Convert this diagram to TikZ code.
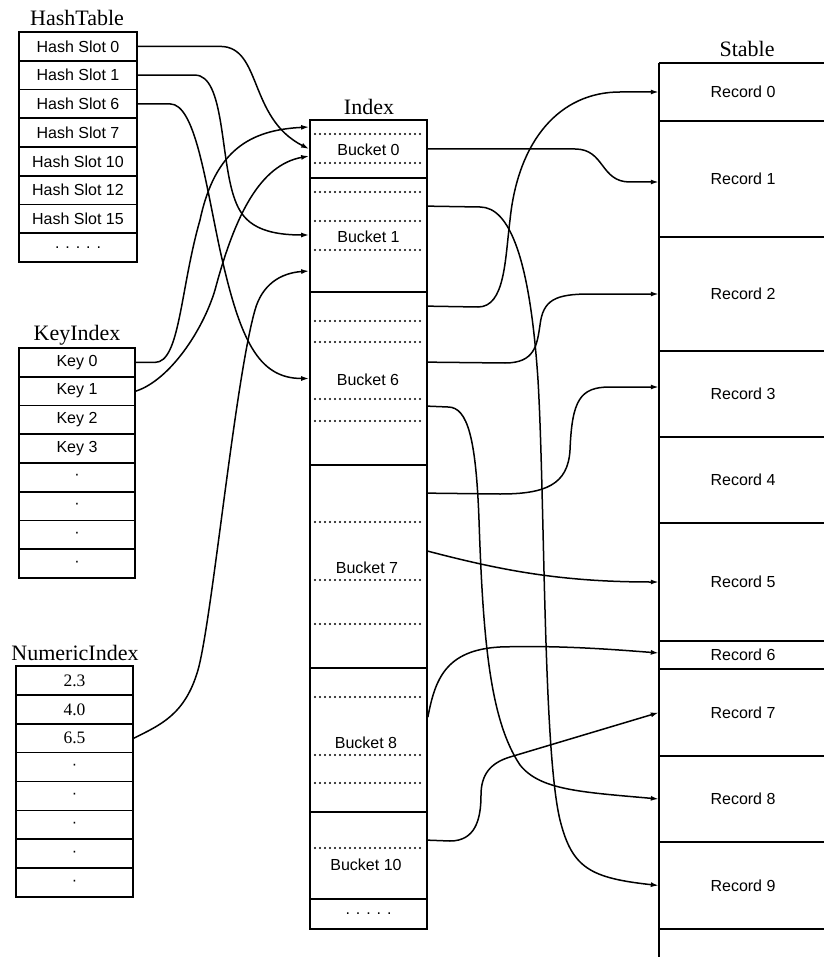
\documentclass[tikz,border=0pt]{standalone}
\usepackage{fontspec}
\setmainfont{Liberation Serif}
\setsansfont{Liberation Sans}
\usetikzlibrary{arrows.meta,calc}
\newcommand{\myLab}{\sffamily\fontsize{16}{18}\selectfont}
\newcommand{\myTit}{\rmfamily\fontsize{22}{24}\selectfont}
\newcommand{\myNum}{\rmfamily\fontsize{17.5}{19}\selectfont}
\begin{document}
\begin{tikzpicture}[x=1pt,y=-1pt,
  cell/.style={draw,line width=1.7pt,inner sep=0pt,minimum height=28.75pt,font=\myLab},
  hcell/.style={cell,minimum width=118pt},
  kcell/.style={cell,minimum width=116pt},
  ncell/.style={cell,minimum width=117pt,minimum height=28.875pt,font=\myNum},
  ibox/.style={draw,line width=1.7pt,inner sep=0pt,minimum width=117pt,font=\myLab},
  rec/.style={inner sep=0pt,minimum width=168pt,font=\myLab},
  title/.style={inner sep=0pt,font=\myTit},
  lbl/.style={inner sep=0pt,font=\myLab},
  dotline/.style={line width=2.1pt,dash pattern=on 0pt off 5pt,line cap=round},
  sepline/.style={line width=1.7pt},
  conn/.style={line width=1.5pt,-{Latex[length=8pt,width=5pt]}}]
\useasboundingbox (0,0) rectangle (823,957);

% ---------- HashTable ----------
\node[title] (htt) at (77,18) {HashTable};
\node[hcell] (hs0) at (78,46.375) {Hash Slot 0};
\node[hcell] (hs1) at (78,75.125) {Hash Slot 1};
\node[hcell] (hs6) at (78,103.875) {Hash Slot 6};
\node[hcell] (hs7) at (78,132.625) {Hash Slot 7};
\node[hcell] (hs10) at (78,161.375) {Hash Slot 10};
\node[hcell] (hs12) at (78,190.125) {Hash Slot 12};
\node[hcell] (hs15) at (78,218.875) {Hash Slot 15};
\node[hcell] (hsd) at (78,247.625) {. . . . .};

% ---------- KeyIndex ----------
\node[title] (kit) at (77,335) {KeyIndex};
\node[kcell] (k0) at (77,362.375) {Key 0};
\node[kcell] (k1) at (77,391.125) {Key 1};
\node[kcell] (k2) at (77,419.875) {Key 2};
\node[kcell] (k3) at (77,448.625) {Key 3};
\node[kcell] (k4) at (77,477.375) {·};
\node[kcell] (k5) at (77,506.125) {·};
\node[kcell] (k6) at (77,534.875) {·};
\node[kcell] (k7) at (77,563.625) {·};

% ---------- NumericIndex ----------
\node[title] (nit) at (75,653) {NumericIndex};
\node[ncell] (n0) at (74.5,680.44) {2.3};
\node[ncell] (n1) at (74.5,709.31) {4.0};
\node[ncell] (n2) at (74.5,738.19) {6.5};
\node[ncell,font=\myLab] (n3) at (74.5,767.06) {·};
\node[ncell,font=\myLab] (n4) at (74.5,795.94) {·};
\node[ncell,font=\myLab] (n5) at (74.5,824.81) {·};
\node[ncell,font=\myLab] (n6) at (74.5,853.69) {·};
\node[ncell,font=\myLab] (n7) at (74.5,882.56) {·};

% ---------- Index ----------
\node[title] (ixt) at (369,107) {Index};
\node[ibox,minimum height=58pt] (b0) at (368.5,149) {};
\node[ibox,minimum height=114pt] (b1) at (368.5,235) {};
\node[ibox,minimum height=173pt] (b6) at (368.5,378.5) {};
\node[ibox,minimum height=203pt] (b7) at (368.5,566.5) {};
\node[ibox,minimum height=144pt] (b8) at (368.5,740) {};
\node[ibox,minimum height=87pt] (b10) at (368.5,855.5) {};
\node[ibox,minimum height=30pt] (bd) at (368.5,914) {. . . . .};
\foreach \yy in {134,163,192,221,250,321,342,399,421,522,580,624,697,755,783,848}
  \draw[dotline] (315,\yy) -- (424,\yy);
\node[lbl] (b0t) at (368.5,150) {Bucket 0};
\node[lbl] (b1t) at (368.5,237) {Bucket 1};
\node[lbl] (b6t) at (368,380) {Bucket 6};
\node[lbl] (b7t) at (367,568) {Bucket 7};
\node[lbl] (b8t) at (366,743) {Bucket 8};
\node[lbl] (b10t) at (366,865) {Bucket 10};

% ---------- Stable ----------
\node[title] (stt) at (747,49) {Stable};
\node[rec,minimum height=58pt] (r0) at (743,92) {Record 0};
\node[rec,minimum height=116pt] (r1) at (743,179) {Record 1};
\node[rec,minimum height=114pt] (r2) at (743,294) {Record 2};
\node[rec,minimum height=86pt] (r3) at (743,394) {Record 3};
\node[rec,minimum height=86pt] (r4) at (743,480) {Record 4};
\node[rec,minimum height=118pt] (r5) at (743,582) {Record 5};
\node[rec,minimum height=28pt] (r6) at (743,655) {Record 6};
\node[rec,minimum height=87pt] (r7) at (743,712.5) {Record 7};
\node[rec,minimum height=86pt] (r8) at (743,799) {Record 8};
\node[rec,minimum height=87pt] (r9) at (743,885.5) {Record 9};
\node[rec,minimum height=28pt] (r10) at (743,943) {};
\draw[sepline] (r0.north west) -- (r0.north east);
\foreach \r in {r0,r1,r2,r3,r4,r5,r6,r7,r8,r9}
  \draw[sepline] (\r.south west) -- (\r.south east);
\draw[sepline] (r0.north west) -- (r10.south west);

% ---------- connector end points ----------
\coordinate (ik0) at ($(b0.west)+(0,-22)$);
\coordinate (ik1) at ($(b0.west)+(0,7)$);
\coordinate (in1) at ($(b1.west)+(0,36)$);
\coordinate (o1) at ($(b1.north east)+(0,29)$);
\coordinate (o2) at ($(b6.north east)+(0,15)$);
\coordinate (o3) at ($(b6.north east)+(0,71)$);
\coordinate (o4) at ($(b6.north east)+(0,115)$);
\coordinate (o5) at ($(b7.north east)+(0,29)$);
\coordinate (o6) at ($(b7.north east)+(0,87)$);
\coordinate (o7) at ($(b8.north east)+(0,50)$);
\coordinate (o8) at ($(b10.north east)+(0,29)$);
\coordinate (ir1) at ($(r1.west)+(0,3)$);
\coordinate (ir3) at ($(r3.west)+(0,-7)$);
\coordinate (ir6) at ($(r6.west)+(0,-2)$);

% ---------- left connectors ----------
\draw[conn] (hs0.east) -- (220,46.4) .. controls (262,46.4) and (248,118) .. (b0.west);
\draw[conn] (hs1.east) -- (195,75.1) .. controls (225,75.1) and (220,160) .. (235,200) .. controls (242,219) and (255,235) .. (b1.west);
\draw[conn] (hs6.east) -- (170,103.9) .. controls (195,103.9) and (205,180) .. (220,250) .. controls (240,340) and (258,378.5) .. (b6.west);
\draw[conn] (k0.east) -- (155,362.4) .. controls (180,362.4) and (180,290) .. (200,220) .. controls (215,150) and (250,130) .. (ik0);
\draw[conn] (k1.east) .. controls (170,380) and (203,330) .. (215,290) .. controls (235,215) and (260,165) .. (ik1);
\draw[conn] (n2.east) .. controls (160,725) and (185,715) .. (198,670) .. controls (212,620) and (235,380) .. (255,310) .. controls (262,285) and (280,273) .. (in1);

% ---------- right connectors ----------
\draw[conn] (b0.east) -- (575,149) .. controls (605,149) and (600,182) .. (630,182) -- (ir1);
\draw[conn] (o1) -- (480,207) .. controls (510,207) and (530,260) .. (538,380) .. controls (545,500) and (543,750) .. (560,820) .. controls (572,868) and (590,878) .. (r9.west);
\draw[conn] (o2) -- (478,307) .. controls (505,307) and (505,260) .. (510,220) .. controls (518,140) and (560,92) .. (620,92) -- (r0.west);
\draw[conn] (o3) -- (505,363) .. controls (535,363) and (537,345) .. (540,325) .. controls (543,300) and (555,294) .. (590,294) -- (r2.west);
\draw[conn] (o4) -- (448,407) .. controls (468,407) and (476,440) .. (479,520) .. controls (483,640) and (490,720) .. (520,765) .. controls (540,790) and (580,792) .. (r8.west);
\draw[conn] (o5) -- (500,494) .. controls (545,494) and (568,485) .. (570,450) .. controls (572,400) and (580,387) .. (610,387) -- (ir3);
\draw[conn] (o6) .. controls (500,570) and (560,582) .. (r5.west);
\draw[conn] (o7) .. controls (435,680) and (445,650) .. (500,647) .. controls (560,645) and (620,650) .. (ir6);
\draw[conn] (o8) -- (450,841) .. controls (475,841) and (481,820) .. (481,795) .. controls (481,775) and (490,763) .. (510,757) -- (r7.west);
\end{tikzpicture}
\end{document}
